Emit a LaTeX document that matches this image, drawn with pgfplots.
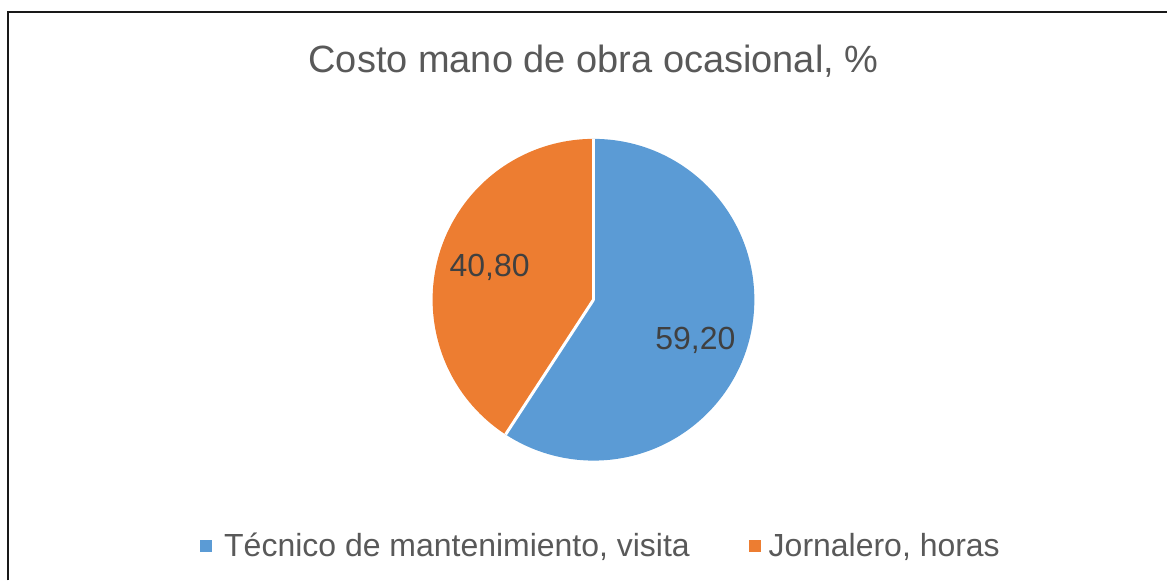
\documentclass[border=0pt]{standalone}
\usepackage{pgfplots}
\pgfplotsset{compat=1.18}
\usepackage{pgfplotstable}
\usepackage{fontspec}
\setmainfont{Liberation Sans}
\definecolor{tecnico}{HTML}{5B9BD5}
\definecolor{jornal}{HTML}{ED7D31}
\definecolor{txt}{HTML}{595959}
\definecolor{lbl}{HTML}{404040}

% porcentaje del costo de mano de obra ocasional
\pgfplotstableread{
categoria valor
tecnico   59.20
jornalero 40.80
}\costos

\begin{document}
\begin{tikzpicture}
\pgfplotstablegetelem{0}{valor}\of\costos \let\vtec\pgfplotsretval
\pgfplotstablegetelem{1}{valor}\of\costos \let\vjor\pgfplotsretval
\pgfmathsetmacro\aend{90-3.6*\vtec}
\pgfmathsetmacro\aorange{\aend-3.6*\vjor}
\def\R{80.5pt}
\begin{axis}[width=584pt,height=290.5pt,scale only axis,
 xmin=0,xmax=1168,ymin=0,ymax=581,hide axis,clip=false]
\path (axis cs:0,0) rectangle (axis cs:1168,581);
% marco
\draw[black!90,line width=1pt] (axis cs:8,0) -- (axis cs:8,569) -- (axis cs:1168,569);
% titulo
\node[anchor=base,font=\fontsize{19pt}{22pt}\selectfont,text=txt]
 at (axis cs:594,508.5) {Costo mano de obra ocasional, \%};
% sectores
\fill[tecnico] (axis cs:594,281) -- ++(90:\R) arc[start angle=90,end angle=\aend,radius=\R] -- cycle;
\fill[jornal] (axis cs:594,281) -- ++(\aend:\R) arc[start angle=\aend,end angle=\aorange,radius=\R] -- cycle;
\draw[white,line width=1.5pt] (axis cs:594,281) -- ++(90:\R);
\draw[white,line width=1.5pt] (axis cs:594,281) -- ++(\aend:\R);
% etiquetas
\node[anchor=base,font=\fontsize{16pt}{19pt}\selectfont,text=lbl] at (axis cs:696,231)
 {\pgfmathprintnumber[fixed,fixed zerofill,precision=2,use comma,assume math mode=true]{\vtec}};
\node[anchor=base,font=\fontsize{16pt}{19pt}\selectfont,text=lbl] at (axis cs:490,304)
 {\pgfmathprintnumber[fixed,fixed zerofill,precision=2,use comma,assume math mode=true]{\vjor}};
% leyenda
\node[fill=tecnico,minimum size=6pt,inner sep=0pt] at (axis cs:206.5,35) {};
\node[anchor=base west,inner sep=0pt,font=\fontsize{16pt}{19pt}\selectfont,text=txt]
 at (axis cs:224,23.7) {Técnico de mantenimiento, visita};
\node[fill=jornal,minimum size=6pt,inner sep=0pt] at (axis cs:756,35) {};
\node[anchor=base west,inner sep=0pt,font=\fontsize{16pt}{19pt}\selectfont,text=txt]
 at (axis cs:769,23.7) {Jornalero, horas};
\end{axis}
\end{tikzpicture}
\end{document}
